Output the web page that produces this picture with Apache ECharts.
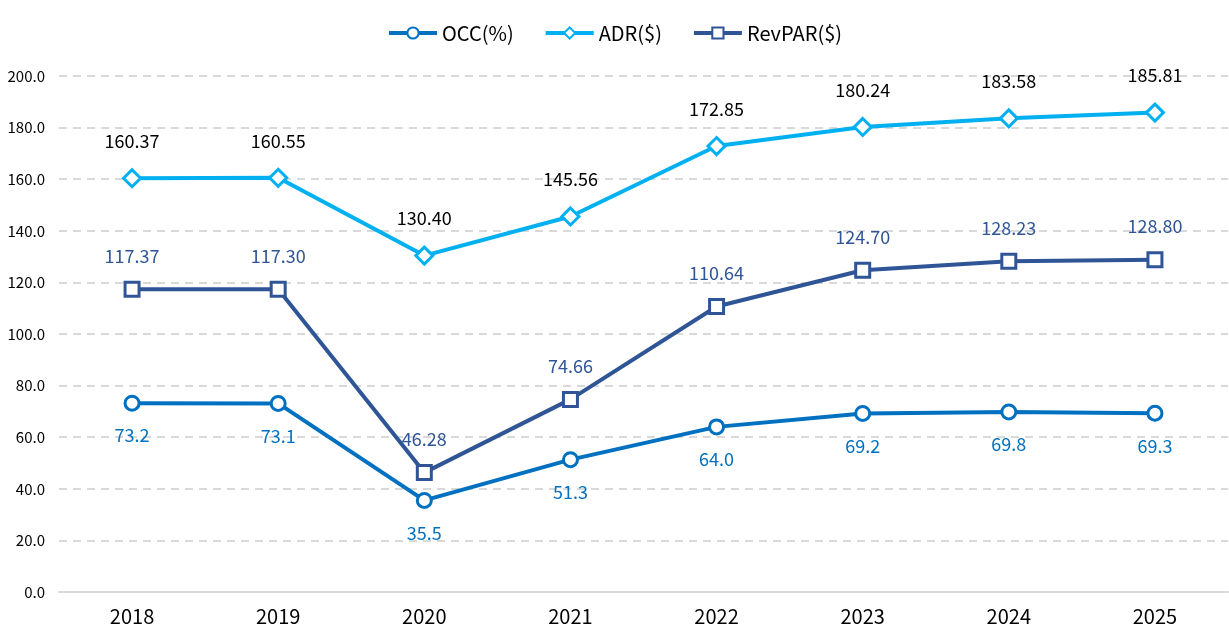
<!DOCTYPE html>
<html>
<head>
<meta charset="utf-8">
<script src="https://cdn.jsdelivr.net/npm/echarts@6/dist/echarts.min.js"></script>
<style>
  html, body { margin: 0; padding: 0; background: #fff; }
  #chart { width: 1229px; height: 639px; }
</style>
</head>
<body>
<div id="chart"></div>
<script>
const years = ["2018", "2019", "2020", "2021", "2022", "2023", "2024", "2025"];
const occ = [73.2, 73.1, 35.5, 51.3, 64.0, 69.2, 69.8, 69.3];
const adr = [160.37, 160.55, 130.40, 145.56, 172.85, 180.24, 183.58, 185.81];
const revpar = [117.37, 117.30, 46.28, 74.66, 110.64, 124.70, 128.23, 128.80];

const font = "'Noto Sans CJK KR', 'Noto Sans', sans-serif";

let myChart = echarts.init(document.getElementById("chart"));

function lineSeries(name, data, color, symbol, labelColor, pos, dist, digits) {
  return {
    name: name,
    type: "line",
    data: data,
    symbol: symbol,
    symbolSize: symbol === "diamond" ? 17 : 14,
    lineStyle: { color: color, width: 4 },
    itemStyle: { color: "#fff", borderColor: color, borderWidth: 3 },
    label: {
      show: true,
      position: pos,
      distance: dist,
      color: labelColor,
      fontFamily: font,
      fontSize: 18,
      letterSpacing: -1.5,
      formatter: p => p.value.toFixed(digits)
    }
  };
}

myChart.setOption({
  animation: false,
  color: ["#0070C0", "#00B0F0", "#2F5597"],
  legend: {
    top: 18,
    left: "center",
    itemWidth: 48,
    itemHeight: 14,
    itemGap: 30,
    lineStyle: { width: 4 },
    textStyle: { fontFamily: font, fontSize: 20, color: "#000", letterSpacing: -1 },
    data: ["OCC(%)", "ADR($)", "RevPAR($)"]
  },
  grid: { left: 59, right: 1, top: 76, bottom: 47 },
  xAxis: {
    type: "category",
    data: years,
    axisLine: { lineStyle: { color: "#d9d9d9", width: 2 } },
    axisTick: { show: false },
    axisLabel: { color: "#000", fontFamily: font, fontSize: 20, margin: 14 }
  },
  yAxis: {
    type: "value",
    min: 0,
    max: 200,
    interval: 20,
    axisLine: { show: false },
    axisTick: { show: false },
    splitLine: { lineStyle: { color: "#d9d9d9", type: [8, 6], width: 2 } },
    axisLabel: {
      color: "#000",
      fontFamily: font,
      fontSize: 15,
      margin: 14,
      letterSpacing: -1,
      formatter: v => v.toFixed(1)
    }
  },
  series: [
    lineSeries("OCC(%)", occ, "#0070C0", "circle", "#0070C0", "bottom", 15, 1),
    lineSeries("ADR($)", adr, "#00B0F0", "diamond", "#000", "top", 18, 2),
    lineSeries("RevPAR($)", revpar, "#2F5597", "rect", "#2F5597", "top", 16, 2)
  ]
});
window.addEventListener("resize", function() {
  myChart.resize();
});
</script>
</body>
</html>
